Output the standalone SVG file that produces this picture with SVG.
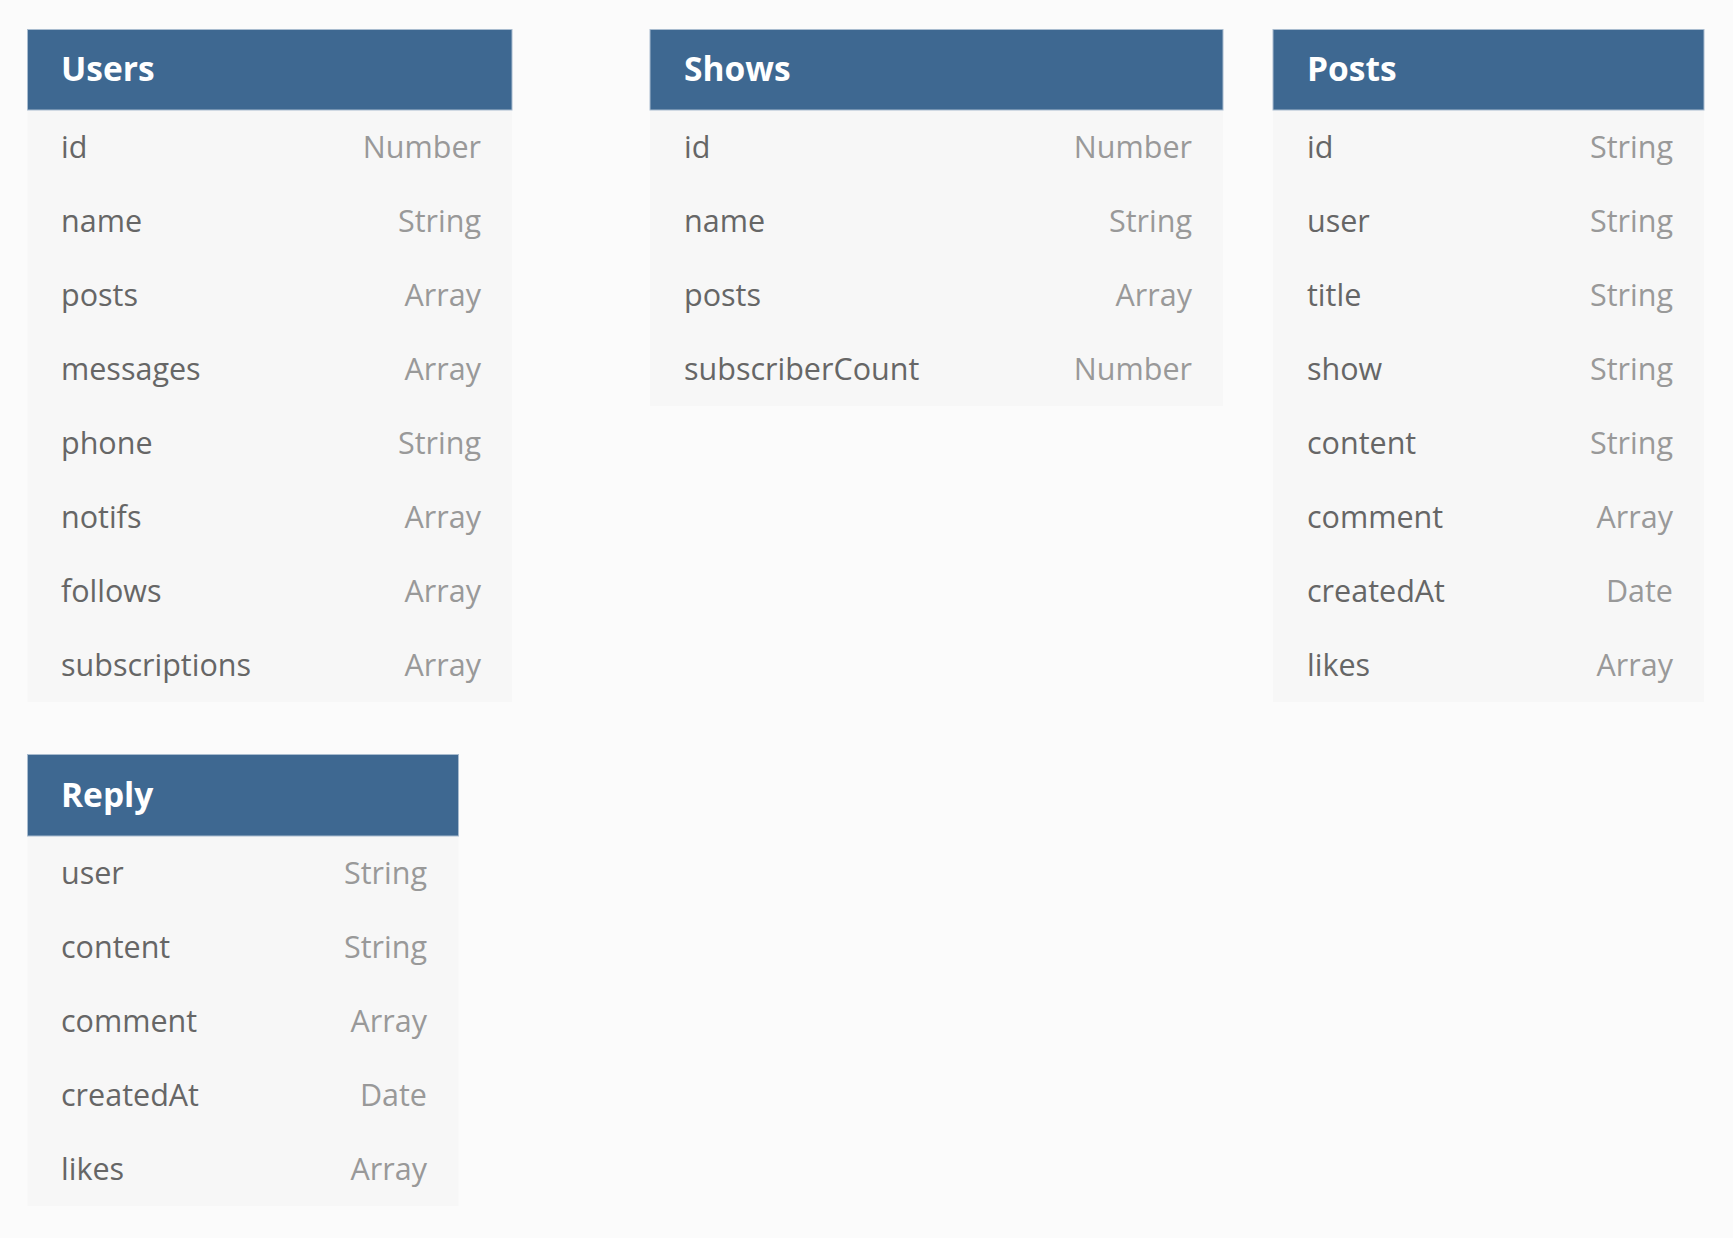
<svg xmlns="http://www.w3.org/2000/svg" width="1733" height="1238" viewBox="0 0 1733 1238">
<style>
.bg{fill:#fbfbfb}
.body{fill:#f7f7f7}
.head{fill:#3e6891;stroke:#a9bccf;stroke-width:1}
.title{font-family:"Open Sans","Noto Sans",sans-serif;font-weight:700;font-size:33.5px;fill:#ffffff}
.f{font-family:"Open Sans","Noto Sans",sans-serif;font-size:30.5px;fill:#666666}
.t{font-family:"Open Sans","Noto Sans",sans-serif;font-size:30.5px;fill:#999999;text-anchor:end}
</style>
<rect class="bg" x="0" y="0" width="1733" height="1238"/>
<g id="connectors"></g>
<g id="users">
<rect class="body" x="27.5" y="110" width="484.5" height="592"/>
<rect class="head" x="27.5" y="29.5" width="484.5" height="80.5"/>
<text class="title" x="61" y="81">Users</text>
<text class="f" x="61" y="158">id</text><text class="t" x="481" y="158">Number</text>
<text class="f" x="61" y="232">name</text><text class="t" x="481" y="232">String</text>
<text class="f" x="61" y="306">posts</text><text class="t" x="481" y="306">Array</text>
<text class="f" x="61" y="380">messages</text><text class="t" x="481" y="380">Array</text>
<text class="f" x="61" y="454">phone</text><text class="t" x="481" y="454">String</text>
<text class="f" x="61" y="528">notifs</text><text class="t" x="481" y="528">Array</text>
<text class="f" x="61" y="602">follows</text><text class="t" x="481" y="602">Array</text>
<text class="f" x="61" y="676">subscriptions</text><text class="t" x="481" y="676">Array</text>
</g>
<g id="shows">
<rect class="body" x="650" y="110" width="573" height="296"/>
<rect class="head" x="650" y="29.5" width="573" height="80.5"/>
<text class="title" x="684" y="81">Shows</text>
<text class="f" x="684" y="158">id</text><text class="t" x="1192" y="158">Number</text>
<text class="f" x="684" y="232">name</text><text class="t" x="1192" y="232">String</text>
<text class="f" x="684" y="306">posts</text><text class="t" x="1192" y="306">Array</text>
<text class="f" x="684" y="380">subscriberCount</text><text class="t" x="1192" y="380">Number</text>
</g>
<g id="posts">
<rect class="body" x="1273" y="110" width="431" height="592"/>
<rect class="head" x="1273" y="29.5" width="431" height="80.5"/>
<text class="title" x="1307" y="81">Posts</text>
<text class="f" x="1307" y="158">id</text><text class="t" x="1673" y="158">String</text>
<text class="f" x="1307" y="232">user</text><text class="t" x="1673" y="232">String</text>
<text class="f" x="1307" y="306">title</text><text class="t" x="1673" y="306">String</text>
<text class="f" x="1307" y="380">show</text><text class="t" x="1673" y="380">String</text>
<text class="f" x="1307" y="454">content</text><text class="t" x="1673" y="454">String</text>
<text class="f" x="1307" y="528">comment</text><text class="t" x="1673" y="528">Array</text>
<text class="f" x="1307" y="602">createdAt</text><text class="t" x="1673" y="602">Date</text>
<text class="f" x="1307" y="676">likes</text><text class="t" x="1673" y="676">Array</text>
</g>
<g id="reply">
<rect class="body" x="27.5" y="836" width="431" height="370"/>
<rect class="head" x="27.5" y="754.5" width="431" height="81.5"/>
<text class="title" x="61" y="807">Reply</text>
<text class="f" x="61" y="884">user</text><text class="t" x="427" y="884">String</text>
<text class="f" x="61" y="958">content</text><text class="t" x="427" y="958">String</text>
<text class="f" x="61" y="1032">comment</text><text class="t" x="427" y="1032">Array</text>
<text class="f" x="61" y="1106">createdAt</text><text class="t" x="427" y="1106">Date</text>
<text class="f" x="61" y="1180">likes</text><text class="t" x="427" y="1180">Array</text>
</g>
</svg>
